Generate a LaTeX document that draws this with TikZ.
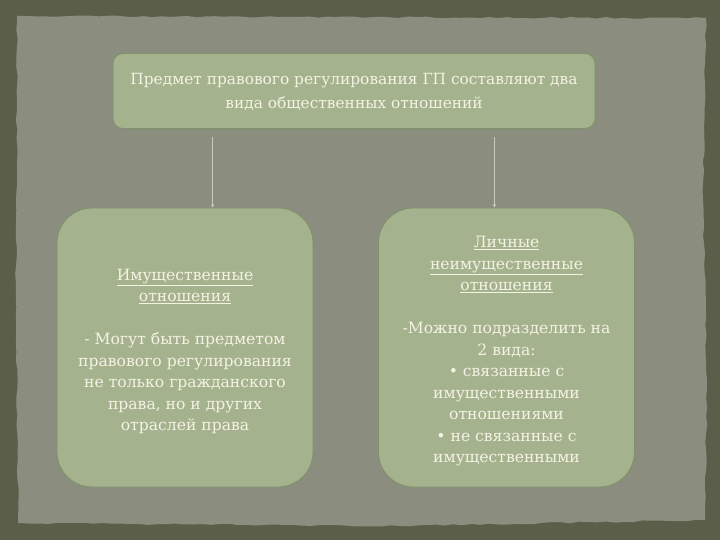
\documentclass[tikz,border=0pt]{standalone}
\usepackage{fontspec}
\setmainfont{DejaVu Serif}
\usetikzlibrary{calc,decorations.pathmorphing}
\definecolor{bgolive}{HTML}{5B5F49}
\definecolor{bggrey}{HTML}{8B8E7F}
\definecolor{boxfill}{HTML}{A4B28D}
\definecolor{boxline}{HTML}{7F9169}
\definecolor{boxtext}{HTML}{F4F2E2}
\definecolor{arrline}{HTML}{C9CCBA}
% push first line down a little
\newcommand{\toppad}{\rule{0pt}{19pt}}

\begin{document}
\begin{tikzpicture}[x=1pt,y=-1pt,
  box/.style={draw=boxline, line width=0.8pt, fill=boxfill, text=boxtext,
    align=center, font=\fontsize{15.6}{21.5}\selectfont},
  arr/.style={-stealth, draw=arrline, line width=0.6pt}]
\useasboundingbox (0,0) rectangle (720,540);
% background with torn paper
\fill[bgolive] (0,0) rectangle (720,540);
\pgfmathsetseed{11}
\fill[bggrey, decorate, decoration={random steps, segment length=9pt, amplitude=0.9pt}]
  (17,16) -- (300,17) -- (706,18) -- (703,200) -- (707,380) -- (705,520)
  -- (400,526) -- (18,523) -- (16,300) -- cycle;
%
% top box
\node[box, rounded corners=10pt, minimum width=482pt, minimum height=75pt,
  font=\fontsize{15.4}{24}\selectfont] (subject) at (354,91)
  {\rule{0pt}{14pt}Предмет правового регулирования ГП составляют два\\вида общественных отношений};
% left box
\node[box, rounded corners=35pt, minimum width=256pt, minimum height=279pt] (prop) at (185,347.5)
  {\toppad\underline{Имущественные}\\\underline{отношения}\\[21.5pt]
   - Могут быть предметом\\правового регулирования\\не только гражданского\\права, но и других\\отраслей права};
% right box
\node[box, rounded corners=35pt, minimum width=256pt, minimum height=279pt] (nonprop) at (506.5,347.5)
  {\toppad\underline{Личные}\\\underline{неимущественные}\\\underline{отношения}\\[21.5pt]
   -Можно подразделить на\\2 вида:\\• связанные с\\имущественными\\отношениями\\• не связанные с\\имущественными};
%
% arrows
\coordinate (leftstart) at ($(subject.south west)+(100,8)$);
\coordinate (rightstart) at ($(subject.south east)+(-101,8)$);
\draw[arr] (leftstart) -- (leftstart |- prop.north);
\draw[arr] (rightstart) -- (rightstart |- nonprop.north);
\end{tikzpicture}
\end{document}
